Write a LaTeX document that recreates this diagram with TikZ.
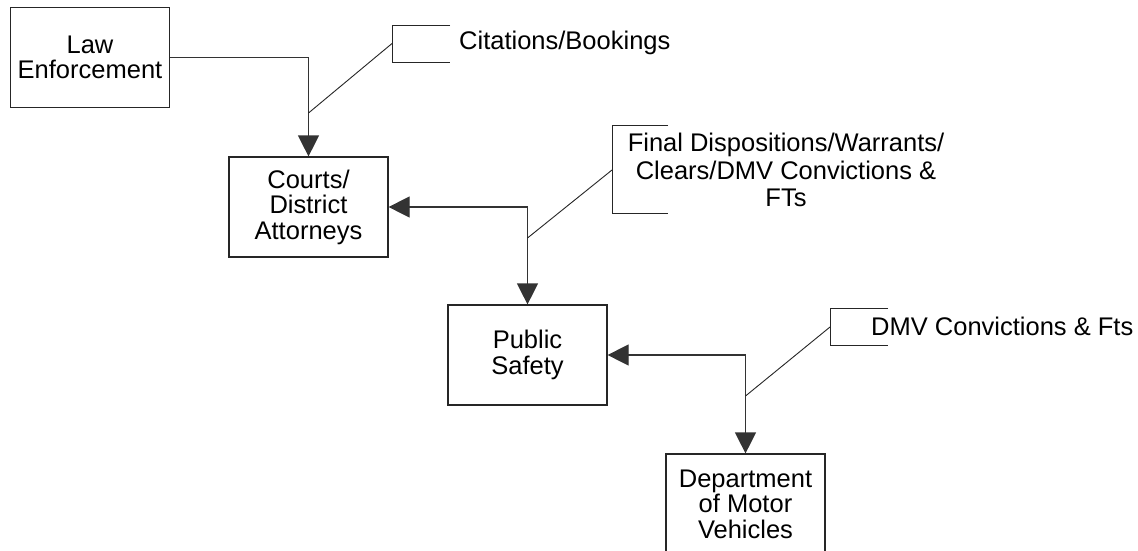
\documentclass[tikz,border=0pt]{standalone}
\usepackage{fontspec}
\setmainfont{Liberation Sans}
\usetikzlibrary{arrows.meta}
\tikzset{
  box/.style={draw=black!85, line width=1.2pt, minimum width=159pt, minimum height=100pt,
    inner sep=0pt, align=center, font=\fontsize{25.5}{25.5}\selectfont},
  conn/.style={draw=black!80, line width=1.2pt},
  tip/.style={-{Triangle[length=21pt,width=21pt]}},
  tips/.style={{Triangle[length=21pt,width=21pt]}-{Triangle[length=21pt,width=21pt]}},
  callout/.style={draw=black!85, line width=0.9pt},
  ctext/.style={inner sep=0pt, align=center, font=\fontsize{25.5}{27.5}\selectfont}
}
\begin{document}
\begin{tikzpicture}[x=1pt,y=-1pt]
\clip (0,0) rectangle (1138,550);
\fill[white] (0,0) rectangle (1138,550);

% boxes
\node[box] (le) at (90,57.5) {Law\\Enforcement};
\node[box] (courts) at (308.5,207) {Courts/\\District\\Attorneys};
\node[box] (ps) at (527.5,355) {Public\\Safety};
\node[box] (dmv) at (745.5,504) {Department\\of Motor\\Vehicles};

% connectors
\draw[conn,tip] (le.east) -| (courts.north);
\draw[conn,tips] (courts.east) -| (ps.north);
\draw[conn,tips] (ps.east) -| (dmv.north);

% callout 1
\coordinate (b1a) at (450,25);
\coordinate (b1b) at (392,25);
\coordinate (b1c) at (392,62);
\coordinate (b1d) at (450,62);
\coordinate (c1) at (392,43.5);
\coordinate (c1e) at (308.5,113);
\draw[callout] (b1a) -- (b1b) -- (b1c) -- (b1d);
\draw[callout] (c1) -- (c1e);
\node[ctext, anchor=west] (t1) at (459,43) {Citations/Bookings};

% callout 2
\coordinate (b2a) at (668,125);
\coordinate (b2b) at (612,125);
\coordinate (b2c) at (612,213);
\coordinate (b2d) at (668,213);
\coordinate (c2) at (612,170);
\coordinate (c2e) at (527.5,238);
\draw[callout] (b2a) -- (b2b) -- (b2c) -- (b2d);
\draw[callout] (c2) -- (c2e);
\node[ctext] (t2) at (786,170) {Final Dispositions/Warrants/\\Clears/DMV Convictions \&\\FTs};

% callout 3
\coordinate (b3a) at (888,308);
\coordinate (b3b) at (830,308);
\coordinate (b3c) at (830,345);
\coordinate (b3d) at (888,345);
\coordinate (c3) at (830,327);
\coordinate (c3e) at (745.5,396);
\draw[callout] (b3a) -- (b3b) -- (b3c) -- (b3d);
\draw[callout] (c3) -- (c3e);
\node[ctext, anchor=west] (t3) at (871,326) {DMV Convictions \& Fts};
\end{tikzpicture}
\end{document}
